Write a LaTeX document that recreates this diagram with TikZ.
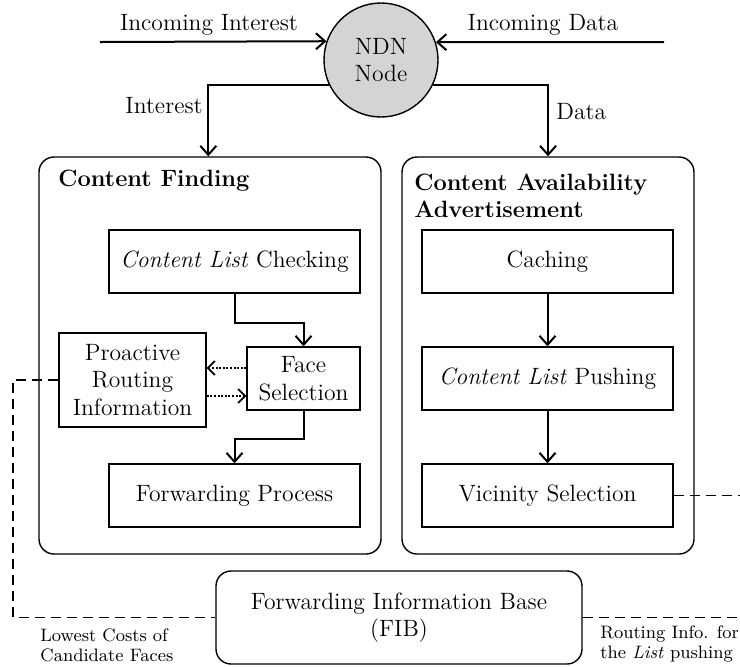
\documentclass[tikz,border=0pt]{standalone}
\usepackage{fontspec}
\usetikzlibrary{arrows.meta,calc}

\newcommand\mainfs{\fontsize{11.8}{13.8}\selectfont}
\newcommand\smallfs{\fontsize{9.0}{10.0}\selectfont}

\tikzset{
  stagebox/.style={draw, line width=0.7pt, minimum width=125.5pt, minimum height=31.5pt,
                   inner sep=2pt, align=center, font=\mainfs},
  groupbox/.style={draw, line width=0.7pt, rounded corners=7.5pt, minimum height=198.5pt, inner sep=0pt},
  flowarrow/.style={line width=1pt, -{Straight Barb[length=4.5pt,width=8pt]}},
  dotarrow/.style={line width=0.85pt, dash pattern=on 1pt off 0.8pt,
                   -{Straight Barb[length=3.5pt,width=7pt]}},
  linkline/.style={line width=0.9pt, dash pattern=on 5pt off 3pt},
  caption/.style={font=\mainfs, inner sep=0pt},
  note/.style={font=\smallfs, inner sep=0pt, align=left, anchor=west},
}

\begin{document}
\begin{tikzpicture}[x=0.5pt, y=-0.5pt]
\useasboundingbox (0,0) rectangle (740,666);

% the node itself and its two input streams
\node[circle, draw, fill=black!17, line width=0.7pt, minimum size=57pt, inner sep=0pt,
      align=center, font=\mainfs] (ndn) at (381,60) {NDN\\Node};
\coordinate (inI) at (100,42);
\coordinate (inD) at (664,42);
\draw[flowarrow] (inI) -- (ndn.161.6);
\draw[flowarrow] (inD) -- (ndn.18.4);
\node[caption] (lblI) at (209,25) {Incoming Interest};
\node[caption] (lblD) at (543,25) {Incoming Data};

% the two functional groups
\node[groupbox, minimum width=171pt] (finding) at (210,355.5) {};
\node[groupbox, minimum width=146pt] (advert) at (548,355.5) {};
\node[caption, anchor=west, font=\mainfs\bfseries] (tF) at (58,181) {Content Finding};
\node[caption, anchor=west, align=left, font=\mainfs\bfseries] (tA) at (414,196)
  {Content Availability\\Advertisement};

% branches from the node into the groups
\draw[flowarrow] (ndn.206) -| ($(finding.north west)+(170,0)$);
\draw[flowarrow] (ndn.334) -| (advert.north);
\node[caption, anchor=east] (lI) at (203,106) {Interest};
\node[caption, anchor=west] (lD) at (556,112) {Data};

% content finding stages
\node[stagebox] (clc) at (234.5,261.5) {\emph{Content List} Checking};
\node[stagebox, minimum width=73.5pt, minimum height=47pt] (pri) at (132.5,380)
  {Proactive\\Routing\\Information};
\node[stagebox, minimum width=56.5pt] (face) at (303.5,378.5) {Face\\Selection};
\node[stagebox] (fwd) at (234.5,495.5) {Forwarding Process};

\draw[flowarrow] (clc.south) -- ++(0,29) -| (face.north);
\draw[flowarrow] (face.south) -- ++(0,28) -| (fwd.north);
\draw[dotarrow] ($(face.west)+(0,-10.5)$) -- ($(pri.east)+(0,-12)$);
\draw[dotarrow] ($(pri.east)+(0,16)$) -- ($(face.west)+(0,17.5)$);

% advertisement stages
\node[stagebox] (cache) at (547.5,261.5) {Caching};
\node[stagebox] (clp) at (547.5,378.5) {\emph{Content List} Pushing};
\node[stagebox] (vic) at (547.5,495.5) {Vicinity Selection};
\draw[flowarrow] (cache) -- (clp);
\draw[flowarrow] (clp) -- (vic);

% forwarding information base and its links
\node[draw, line width=0.7pt, rounded corners=7.5pt, minimum width=183pt, minimum height=46.5pt,
      align=center, font=\mainfs] (fib) at (399,617.5) {Forwarding Information Base\\(FIB)};
\coordinate (rim) at (740,0);
\draw[linkline] (pri.west) -- ++(-45,0) |- (fib.west);
\draw[linkline] (vic.east) -- (vic.east -| rim);
\draw[linkline] (fib.east) -- (fib.east -| rim);

\node[note] (nL) at (40,645) {Lowest Costs of\\Candidate Faces};
\node[note] (nR) at (600,644) {Routing Info. for\\the \emph{List} pushing};
\end{tikzpicture}
\end{document}
